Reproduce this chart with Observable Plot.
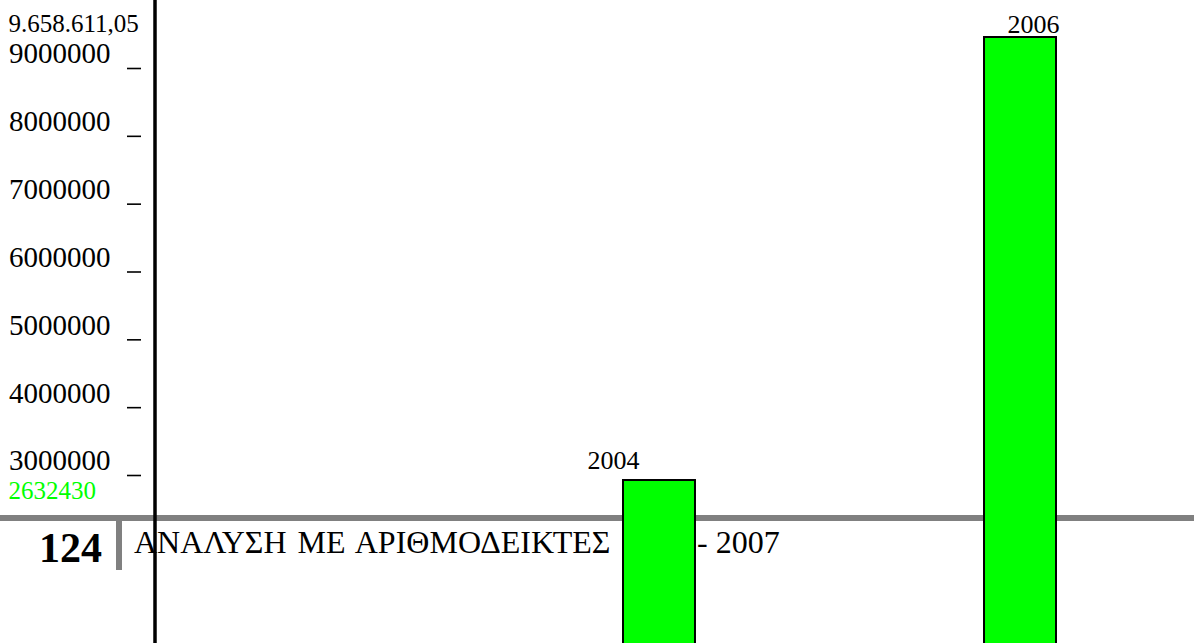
<!DOCTYPE html>
<html>
<head>
<meta charset="utf-8">
<script src="https://cdn.jsdelivr.net/npm/d3@7"></script>
<script src="https://cdn.jsdelivr.net/npm/@observablehq/plot@0.6"></script>
<style>
html, body { margin: 0; padding: 0; background: #fff; overflow: hidden; }
#page { position: relative; width: 1194px; height: 643px; overflow: hidden;
  font-family: "Liberation Serif", "Times New Roman", serif; color: #000; }
#page svg { position: absolute; left: 0; top: 0; }
.footer-rule { position: absolute; left: 0; top: 515px; width: 1194px; height: 6px; background: #808080; }
.footer-bar { position: absolute; left: 116px; top: 518px; width: 6px; height: 52px; background: #808080; }
.page-num { position: absolute; left: 0; width: 102px; top: 527px; text-align: right;
  font-weight: bold; font-size: 42px; line-height: 42px; }
.page-title { position: absolute; left: 134px; top: 526px; font-size: 32px; line-height: 32px; white-space: pre; word-spacing: 3px; }
.page-title-end { position: absolute; left: 697px; top: 526px; font-size: 32px; line-height: 32px; white-space: pre; }
</style>
</head>
<body>
<div id="page">
  <div class="footer-rule"></div>
  <div class="footer-bar"></div>
  <div class="page-num" id="pagenum"></div>
  <div class="page-title" id="pagetitle"></div>
  <div class="page-title-end" id="pagetitleend"></div>
</div>
<script>
// ---- data ----
const years = ["2004", "2006"];
const values = [2632430, 9658611.05];
const tickValues = [3000000, 4000000, 5000000, 6000000, 7000000, 8000000, 9000000];
const maxLabelValue = 9658611.05;
const minLabelValue = 2632430;
const pageNumber = "124";
const footerTitle = "ΑΝΑΛΥΣΗ ΜΕ ΑΡΙΘΜΟΔΕΙΚΤΕΣ 2003";
const footerTitleEnd = "- 2007";

const font = "Liberation Serif, Times New Roman, serif";
const grFormat = d3.formatLocale({decimal: ",", thousands: ".", grouping: [3], currency: ["", ""]}).format(",.2f");

document.getElementById("pagenum").textContent = pageNumber;
document.getElementById("pagetitle").textContent = footerTitle;
document.getElementById("pagetitleend").textContent = footerTitleEnd;

const data = years.map((year, i) => ({year, value: values[i]}));
const page = document.getElementById("page");

// ---- main chart: bars ----
const main = Plot.plot({
  width: 1194, height: 643,
  marginLeft: 154.5, marginRight: 0, marginTop: 0, marginBottom: 0,
  style: {background: "transparent", fontFamily: font, overflow: "visible"},
  x: {type: "band", domain: years, range: [623, 1056], paddingInner: 0.8006, paddingOuter: 0, round: false, axis: null},
  y: {domain: [0, d3.max(values)], range: [646, 37], axis: null},
  marks: [
    Plot.barY(data, {x: "year", y: "value", fill: "#00ff00", stroke: "#000", strokeWidth: 2}),
    Plot.frame({anchor: "left", stroke: "#000", strokeWidth: 3.5}),
    Plot.text(data.filter(d => d.year === "2004"), {x: "year", y: "value", text: "year",
      textAnchor: "start", dx: -72, dy: -20.3, fontSize: 26, fill: "#000"}),
    Plot.text(data.filter(d => d.year === "2006"), {x: "year", y: "value", text: "year",
      textAnchor: "start", dx: -13, dy: -13.3, fontSize: 26, fill: "#000"})
  ]
});
page.appendChild(main);

// ---- tick labels (their own scale, as printed) ----
const axisPlot = Plot.plot({
  width: 160, height: 643,
  marginLeft: 141, marginRight: 0, marginTop: 0, marginBottom: 0,
  style: {background: "transparent", fontFamily: font, overflow: "visible"},
  y: {domain: [3000000, 9000000], range: [475, 68]},
  marks: [
    Plot.axisY(tickValues, {anchor: "left", tickSize: 14, fill: "none", stroke: "#000", strokeWidth: 1.6, label: null}),
    Plot.axisY(tickValues, {anchor: "left", tickSize: 0, tickPadding: 31, stroke: "none", fill: "#000",
      fontSize: 29, dy: -14.3, tickFormat: d => String(d), label: null}),
    Plot.text([maxLabelValue], {y: d => d, text: d => grFormat(d), frameAnchor: "left",
      textAnchor: "start", dx: -133, dy: -0.3, fontSize: 25, fill: "#000"}),
    Plot.text([minLabelValue], {y: d => d, text: d => String(d), frameAnchor: "left",
      textAnchor: "start", dx: -133, dy: -9.9, fontSize: 25, fill: "#00ff00"})
  ]
});
page.appendChild(axisPlot);
</script>
</body>
</html>
